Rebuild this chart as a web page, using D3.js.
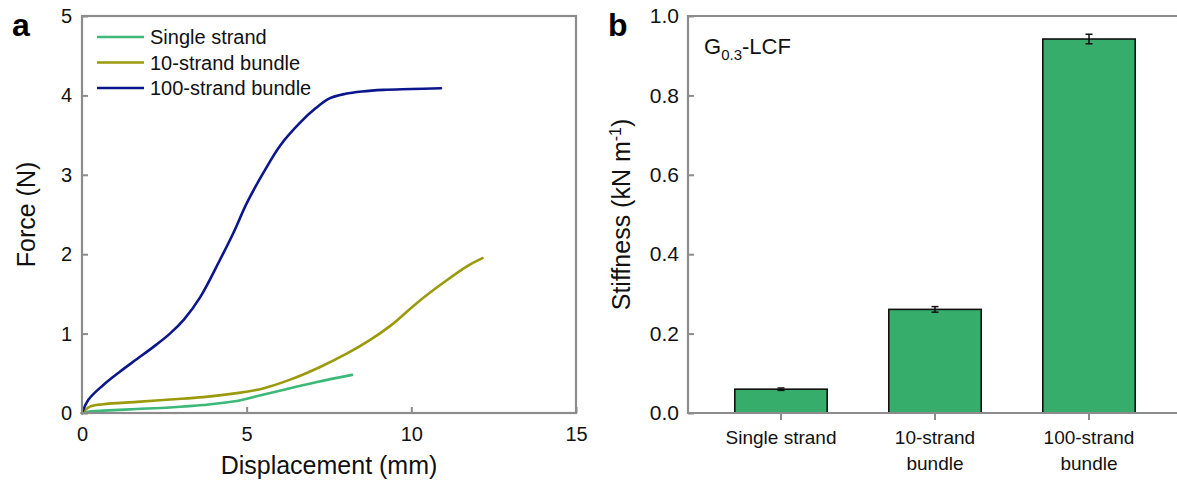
<!DOCTYPE html>
<html>
<head>
<meta charset="utf-8">
<script src="https://cdn.jsdelivr.net/npm/d3@7"></script>
<style>
  html, body { margin: 0; padding: 0; background: #fff; }
  svg { display: block; font-family: "Liberation Sans", Arial, sans-serif; }
</style>
</head>
<body>
<svg id="chart" width="1177" height="488"></svg>
<script>
// ---- Panel a data: force-displacement curves ----
const seriesNames = ["Single strand", "10-strand bundle", "100-strand bundle"];
const seriesColors = ["#3cb878", "#9a9a0c", "#0c168c"];
const singleX = [0, 0.3, 0.64, 1.67, 2.67, 3.68, 4.7, 5.3, 6.1, 7.14, 8.2];
const singleY = [0, 0.02, 0.03, 0.05, 0.07, 0.10, 0.15, 0.21, 0.29, 0.39, 0.48];
const tenX = [0, 0.24, 0.64, 1.67, 2.67, 3.68, 4.7, 5.5, 6.32, 7.23, 8.05, 8.75, 9.4, 10.18, 10.97, 11.7, 12.16];
const tenY = [0, 0.08, 0.11, 0.14, 0.17, 0.20, 0.25, 0.31, 0.42, 0.58, 0.75, 0.92, 1.11, 1.39, 1.64, 1.85, 1.95];
const hundredX = [0, 0.2, 0.64, 1.15, 1.67, 2.16, 2.67, 3.1, 3.59, 4.19, 4.6, 5.0, 5.5, 6.02, 6.63, 7.1, 7.5, 8.0, 8.5, 9.15, 10.0, 10.9];
const hundredY = [0, 0.17, 0.35, 0.52, 0.68, 0.83, 1.0, 1.18, 1.46, 1.93, 2.27, 2.64, 3.02, 3.37, 3.66, 3.84, 3.96, 4.02, 4.05, 4.07, 4.08, 4.09];
const forceTicks = [0, 1, 2, 3, 4, 5];
const dispTicks = [0, 5, 10, 15];

// ---- Panel b data: stiffness bars ----
const categories = ["Single strand", "10-strand bundle", "100-strand bundle"];
const categoryLines = [["Single strand"], ["10-strand", "bundle"], ["100-strand", "bundle"]];
const stiffness = [0.060, 0.261, 0.942];
const stiffnessErr = [0.003, 0.007, 0.012];
const stiffTicks = [0, 0.2, 0.4, 0.6, 0.8, 1.0];

const svg = d3.select("#chart");
const frameColor = "#8c8c8c";
const plotTop = 16, plotBottom = 413;

// ================= Panel a =================
const xa = d3.scaleLinear().domain([0, 15]).range([82, 576]);
const ya = d3.scaleLinear().domain([0, 5]).range([plotBottom, plotTop]);
const ga = svg.append("g");

const axA_x = ga.append("g").attr("transform", `translate(0,${plotBottom})`)
  .call(d3.axisBottom(xa).tickValues(dispTicks).tickSizeInner(-6).tickSizeOuter(0).tickPadding(14).tickFormat(d3.format("d")));
const axA_y = ga.append("g").attr("transform", `translate(${xa(0)},0)`)
  .call(d3.axisLeft(ya).tickValues(forceTicks).tickSizeInner(-6).tickSizeOuter(0).tickPadding(10).tickFormat(d3.format("d")));
[axA_x, axA_y].forEach(ax => {
  ax.select(".domain").remove();
  ax.selectAll(".tick line").attr("stroke", frameColor).attr("stroke-width", 2);
  ax.selectAll(".tick text").attr("fill", "#111").style("font-size", "20px").style("font-family", "Liberation Sans, Arial, sans-serif");
});

const seriesA = [
  { xs: singleX, ys: singleY },
  { xs: tenX, ys: tenY },
  { xs: hundredX, ys: hundredY }
];
const lineA = d3.line().x(d => xa(d[0])).y(d => ya(d[1])).curve(d3.curveCatmullRom.alpha(0.5));
seriesA.forEach((s, i) => {
  ga.append("path")
    .datum(s.xs.map((x, j) => [x, s.ys[j]]))
    .attr("d", lineA)
    .attr("fill", "none")
    .attr("stroke", seriesColors[i])
    .attr("stroke-width", 2.6)
    .attr("stroke-linecap", "round")
    .attr("stroke-linejoin", "round");
});

ga.append("rect")
  .attr("x", xa(0)).attr("y", ya(5))
  .attr("width", xa(15) - xa(0)).attr("height", ya(0) - ya(5))
  .attr("fill", "none").attr("stroke", frameColor).attr("stroke-width", 2.2);

// legend
const leg = ga.append("g");
seriesNames.forEach((name, i) => {
  const yy = 37 + i * 25.5;
  leg.append("line").attr("x1", 97).attr("x2", 144).attr("y1", yy).attr("y2", yy)
    .attr("stroke", seriesColors[i]).attr("stroke-width", 2.6);
  leg.append("text").attr("x", 150).attr("y", yy + 7).text(name)
    .style("font-size", "20px").attr("fill", "#111");
});

ga.append("text").attr("x", xa(7.5)).attr("y", 474).attr("text-anchor", "middle")
  .style("font-size", "25px").attr("fill", "#111").text("Displacement (mm)");
ga.append("text").attr("transform", `translate(35,${(plotTop + plotBottom) / 2}) rotate(-90)`)
  .attr("text-anchor", "middle").style("font-size", "25px").attr("fill", "#111").text("Force (N)");
svg.append("text").attr("x", 12).attr("y", 36).style("font-size", "32px").style("font-weight", "bold")
  .attr("fill", "#000").text("a");

// ================= Panel b =================
const xb = d3.scaleBand().domain(categories).range([704, 1166]).paddingInner(0.4).paddingOuter(0.2);
const yb = d3.scaleLinear().domain([0, 1]).range([plotBottom, plotTop]);
const gb = svg.append("g");
const leftB = 688;

const axB_y = gb.append("g").attr("transform", `translate(${leftB},0)`)
  .call(d3.axisLeft(yb).tickValues(stiffTicks).tickSizeInner(-6).tickSizeOuter(0).tickPadding(9).tickFormat(d3.format(".1f")));
const axB_x = gb.append("g").attr("transform", `translate(0,${plotBottom})`)
  .call(d3.axisBottom(xb).tickSizeInner(7).tickSizeOuter(0).tickFormat(""));
[axB_x, axB_y].forEach(ax => {
  ax.select(".domain").remove();
  ax.selectAll(".tick line").attr("stroke", frameColor).attr("stroke-width", 2);
  ax.selectAll(".tick text").attr("fill", "#111").style("font-size", "21px").style("font-family", "Liberation Sans, Arial, sans-serif");
});

// category labels (multi-line)
categories.forEach((c, i) => {
  const t = gb.append("text").attr("text-anchor", "middle").style("font-size", "19px").attr("fill", "#111");
  categoryLines[i].forEach((ln, k) => {
    t.append("tspan").attr("x", xb(c) + xb.bandwidth() / 2).attr("y", 444 + k * 26).text(ln);
  });
});

// bars
gb.selectAll("rect.bar").data(categories).enter().append("rect")
  .attr("class", "bar")
  .attr("x", d => xb(d)).attr("width", xb.bandwidth())
  .attr("y", (d, i) => yb(stiffness[i]))
  .attr("height", (d, i) => yb(0) - yb(stiffness[i]))
  .attr("fill", "#37ad6b").attr("stroke", "#111").attr("stroke-width", 1.6);

// error bars
categories.forEach((c, i) => {
  const cx = xb(c) + xb.bandwidth() / 2;
  const y1 = yb(stiffness[i] + stiffnessErr[i]), y2 = yb(stiffness[i] - stiffnessErr[i]);
  gb.append("line").attr("x1", cx).attr("x2", cx).attr("y1", y1).attr("y2", y2).attr("stroke", "#111").attr("stroke-width", 1.5);
  [y1, y2].forEach(yy => gb.append("line").attr("x1", cx - 3.5).attr("x2", cx + 3.5).attr("y1", yy).attr("y2", yy)
    .attr("stroke", "#111").attr("stroke-width", 1.5));
});

// frame: left, top, bottom (open right)
gb.append("path")
  .attr("d", `M1177,${plotTop} H${leftB} V${plotBottom} H1177`)
  .attr("fill", "none").attr("stroke", frameColor).attr("stroke-width", 2.2);

// inset label
const gl = gb.append("text").attr("x", 704).attr("y", 54).style("font-size", "22px").attr("fill", "#111");
gl.append("tspan").text("G");
gl.append("tspan").attr("dy", 6).style("font-size", "15px").text("0.3");
gl.append("tspan").attr("dy", -6).text("-LCF");

// y title
const yt = gb.append("text").attr("transform", `translate(630,${(plotTop + plotBottom) / 2}) rotate(-90)`)
  .attr("text-anchor", "middle").style("font-size", "25px").attr("fill", "#111");
yt.append("tspan").text("Stiffness (kN m");
yt.append("tspan").attr("dy", -9).style("font-size", "16px").text("-1");
yt.append("tspan").attr("dy", 9).text(")");

svg.append("text").attr("x", 608).attr("y", 36).style("font-size", "32px").style("font-weight", "bold")
  .attr("fill", "#000").text("b");
</script>
</body>
</html>
